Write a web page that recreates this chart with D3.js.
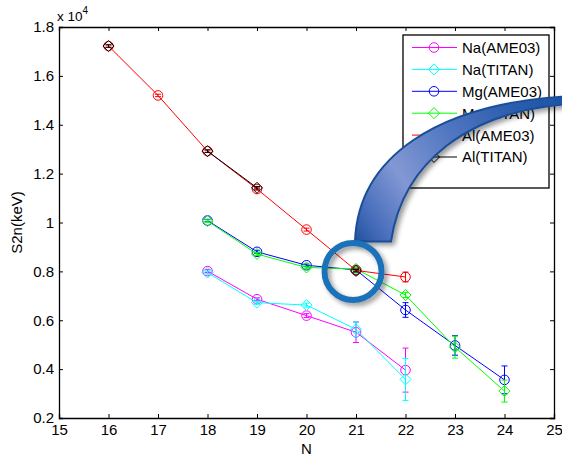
<!DOCTYPE html>
<html>
<head>
<meta charset="utf-8">
<script src="https://cdn.jsdelivr.net/npm/d3@7"></script>
<style>
  html, body { margin: 0; padding: 0; background: #fff; }
  svg { display: block; font-family: Arial, "Liberation Sans", sans-serif; }
</style>
</head>
<body>
<svg id="chart" width="562" height="458"></svg>
<script>
// Two-neutron separation energies S2n (units of 10^4 keV) versus neutron number N
const nNa = [18, 19, 20, 21, 22];
const naAME = [0.801, 0.686, 0.619, 0.551, 0.396];
const naAMEerr = [0.006, 0.006, 0.008, 0.042, 0.09];
const naTITAN = [0.795, 0.672, 0.662, 0.563, 0.358];
const naTITANerr = [0.006, 0.006, 0.008, 0.03, 0.086];

const nMg = [18, 19, 20, 21, 22, 23, 24];
const mgAME = [1.008, 0.880, 0.825, 0.806, 0.642, 0.497, 0.356];
const mgAMEerr = [0.005, 0.006, 0.005, 0.005, 0.03, 0.04, 0.057];
const mgTITAN = [1.006, 0.871, 0.816, 0.81, 0.703, 0.49, 0.31];
const mgTITANerr = [0.005, 0.006, 0.005, 0.005, 0.01, 0.045, 0.045];

const nAl = [16, 17, 18, 19, 20, 21, 22];
const alAME = [1.722, 1.52, 1.292, 1.137, 0.971, 0.804, 0.777];
const alAMEerr = [0.005, 0.005, 0.005, 0.005, 0.006, 0.005, 0.02];
// TITAN Al values; null marks N where the measured chain is broken
const alTITAN = [1.722, null, 1.292, 1.142, null, 0.802, null];
const alTITANerr = [0.005, 0, 0.005, 0.005, 0, 0.005, 0];

const xTicks = [15, 16, 17, 18, 19, 20, 21, 22, 23, 24, 25];
const yTicks = [0.2, 0.4, 0.6, 0.8, 1.0, 1.2, 1.4, 1.6, 1.8];

const seriesNames = ["Na(AME03)", "Na(TITAN)", "Mg(AME03)", "Mg(TITAN)", "Al(AME03)", "Al(TITAN)"];
const seriesColors = ["#ff00ff", "#00ffff", "#0000ff", "#00ff00", "#ff0000", "#000000"];
const seriesMarkers = ["circle", "diamond", "circle", "diamond", "circle", "diamond"];

// Highlighted crossing point of the Mg and Al chains
const highlight = { n: 20.94, s2n: 0.80 };

const series = [
  { n: nNa, v: naAME, e: naAMEerr },
  { n: nNa, v: naTITAN, e: naTITANerr },
  { n: nMg, v: mgAME, e: mgAMEerr },
  { n: nMg, v: mgTITAN, e: mgTITANerr },
  { n: nAl, v: alAME, e: alAMEerr },
  { n: nAl, v: alTITAN, e: alTITANerr }
].map((s, i) => ({
  name: seriesNames[i], color: seriesColors[i], marker: seriesMarkers[i],
  pts: s.n.map((n, j) => ({ n, v: s.v[j], e: s.e[j] }))
}));

const svg = d3.select("#chart");
const plot = { left: 59, right: 554, top: 27, bottom: 418 };

const x = d3.scaleLinear().domain([15, 25]).range([plot.left, plot.right]);
const y = d3.scaleLinear().domain([0.2, 1.8]).range([plot.bottom, plot.top]);

const defs = svg.append("defs");
const shadow = defs.append("filter").attr("id", "shade")
  .attr("x", "-30%").attr("y", "-30%").attr("width", "160%").attr("height", "160%");
shadow.append("feDropShadow").attr("dx", 3).attr("dy", 3).attr("stdDeviation", 2.5)
  .attr("flood-color", "#000").attr("flood-opacity", 0.4);

// Axes (inward ticks on all four sides)
const fmtY = d => (d === 1 ? "1" : d3.format(".1f")(d));
const gx = svg.append("g").attr("transform", `translate(0,${plot.bottom})`)
  .call(d3.axisBottom(x).tickValues(xTicks).tickSize(-4).tickPadding(6).tickFormat(d3.format("d")));
const gy = svg.append("g").attr("transform", `translate(${plot.left},0)`)
  .call(d3.axisLeft(y).tickValues(yTicks).tickSize(-4).tickPadding(5).tickFormat(fmtY));
const gt = svg.append("g").attr("transform", `translate(0,${plot.top})`)
  .call(d3.axisTop(x).tickValues(xTicks).tickSize(-4).tickFormat(""));
const gr = svg.append("g").attr("transform", `translate(${plot.right},0)`)
  .call(d3.axisRight(y).tickValues(yTicks).tickSize(-4).tickFormat(""));
[gx, gy, gt, gr].forEach(g => {
  g.select(".domain").attr("stroke", "#000").attr("stroke-width", 1.3);
  g.selectAll(".tick line").attr("stroke", "#000");
  g.selectAll(".tick text").attr("fill", "#000").style("font-size", "15px")
    .style("font-family", "Arial, 'Liberation Sans', sans-serif");
});

// Axis titles and exponent note
svg.append("text").attr("x", (plot.left + plot.right) / 2).attr("y", 454)
  .attr("text-anchor", "middle").style("font-size", "15px").text("N");
svg.append("text").attr("transform", `translate(22,${(plot.top + plot.bottom) / 2}) rotate(-90)`)
  .attr("text-anchor", "middle").style("font-size", "15px").text("S2n(keV)");
const expo = svg.append("text").attr("x", 57).attr("y", 21).style("font-size", "13.5px");
expo.append("tspan").text("x 10");
expo.append("tspan").attr("dy", -7).style("font-size", "10px").text("4");

// Marker helper
const diamond = r => `M0,${-r}L${r},0L0,${r}L${-r},0Z`;
function drawMarker(g, type, color, cx, cy) {
  if (type === "circle") {
    g.append("circle").attr("cx", cx).attr("cy", cy).attr("r", 4.8)
      .attr("fill", "none").attr("stroke", color).attr("stroke-width", 1);
  } else {
    g.append("path").attr("d", diamond(5.5)).attr("transform", `translate(${cx},${cy})`)
      .attr("fill", "none").attr("stroke", color).attr("stroke-width", 1);
  }
}

const line = d3.line().defined(d => d.v !== null).x(d => x(d.n)).y(d => y(d.v));
const dataG = svg.append("g");

series.forEach(s => {
  const g = dataG.append("g");
  g.append("path").datum(s.pts).attr("d", line)
    .attr("fill", "none").attr("stroke", s.color).attr("stroke-width", 1);
  s.pts.filter(p => p.v !== null).forEach(p => {
    const px = x(p.n), y0 = y(p.v - p.e), y1 = y(p.v + p.e);
    g.append("path")
      .attr("d", `M${px},${y0}V${y1}M${px - 3},${y0}H${px + 3}M${px - 3},${y1}H${px + 3}`)
      .attr("fill", "none").attr("stroke", s.color).attr("stroke-width", 1);
    drawMarker(g, s.marker, s.color, px, y(p.v));
  });
});

// Legend
const leg = { left: 403, top: 35, right: 549, bottom: 188, row0: 47.5, step: 21.9 };
const lg = svg.append("g");
lg.append("rect").attr("x", leg.left).attr("y", leg.top)
  .attr("width", leg.right - leg.left).attr("height", leg.bottom - leg.top)
  .attr("fill", "#fff").attr("stroke", "#000").attr("stroke-width", 1.3);
series.forEach((s, i) => {
  const cy = leg.row0 + i * leg.step;
  lg.append("line").attr("x1", 412).attr("x2", 457).attr("y1", cy).attr("y2", cy)
    .attr("stroke", s.color).attr("stroke-width", 1);
  drawMarker(lg, s.marker, s.color, 434, cy);
  lg.append("text").attr("x", 462).attr("y", cy).attr("dy", "0.36em")
    .style("font-size", "15px").text(s.name);
});

// Callout: ring around the crossing point with a curved pointer
const hx = x(highlight.n), hy = y(highlight.s2n);
const grad = defs.append("linearGradient").attr("id", "bandFill")
  .attr("gradientUnits", "userSpaceOnUse")
  .attr("x1", hx).attr("y1", hy - 30).attr("x2", hx + 210).attr("y2", hy - 172);
[[0, "#1f509f"], [0.12, "#4a6fbc"], [0.3, "#8298d4"], [0.55, "#5277c2"], [0.8, "#2d5eae"], [1, "#1d54a6"]]
  .forEach(([o, c]) => grad.append("stop").attr("offset", o).attr("stop-color", c));

const band = d3.path();
band.moveTo(hx + 2, hy - 30);
band.bezierCurveTo(hx + 5, hy - 115, hx + 85, hy - 167, hx + 212, hy - 175);
band.lineTo(hx + 212, hy - 167);
band.bezierCurveTo(hx + 117, hy - 159, hx + 50, hy - 111, hx + 38, hy - 30);
band.closePath();
svg.append("path").attr("d", band.toString())
  .attr("fill", "url(#bandFill)").attr("stroke", "#1a4d98").attr("stroke-width", 2)
  .attr("filter", "url(#shade)");

svg.append("circle").attr("cx", hx).attr("cy", hy).attr("r", 28.5)
  .attr("fill", "none").attr("stroke", "#1f72b8").attr("stroke-width", 6)
  .attr("filter", "url(#shade)");
</script>
</body>
</html>
